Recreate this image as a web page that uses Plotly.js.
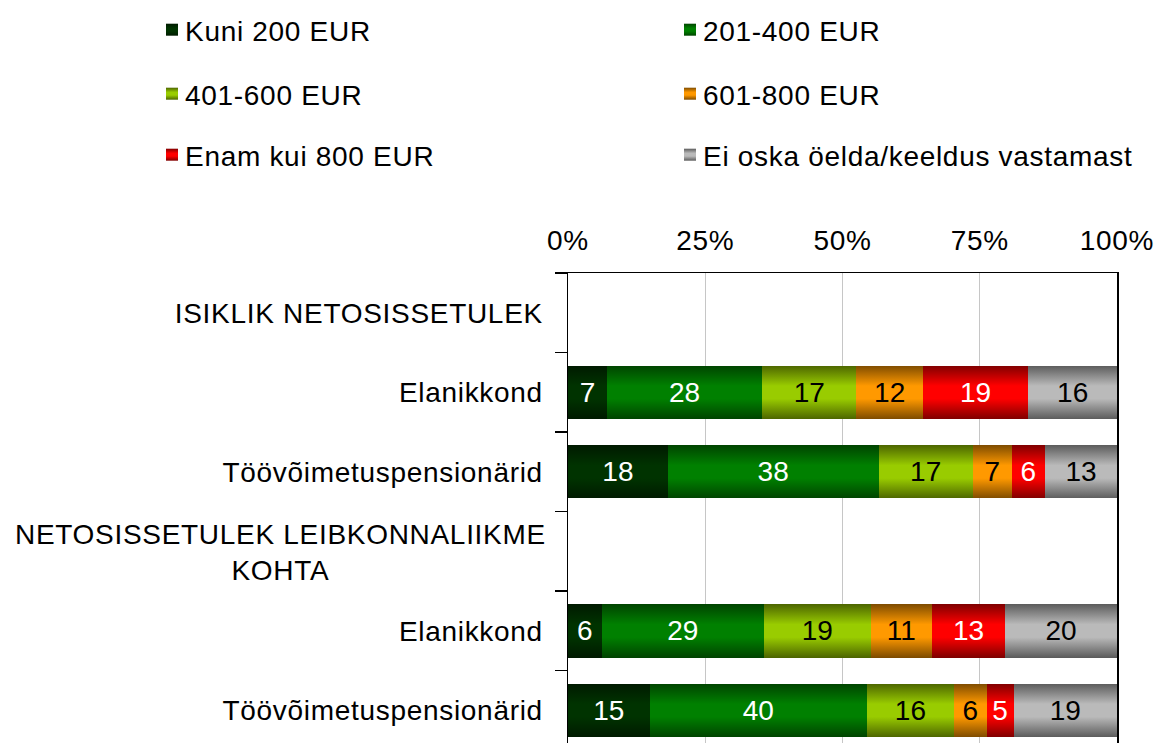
<!DOCTYPE html>
<html>
<head>
<meta charset="utf-8">
<script src="https://cdn.plot.ly/plotly-3.0.1.min.js"></script>
<style>
  html, body { margin: 0; padding: 0; background: #fff; }
  #chart { width: 1157px; height: 743px; }
  text { letter-spacing: 0.7px; }
  text.bartext { letter-spacing: 0px; }
</style>
</head>
<body>
<div id="chart"></div>
<script>
// ---- data ----
const categories = [
  'ISIKLIK NETOSISSETULEK',
  'Elanikkond',
  'Töövõimetuspensionärid',
  'NETOSISSETULEK LEIBKONNALIIKME<br>KOHTA',
  'Elanikkond',
  'Töövõimetuspensionärid'
];
const seriesNames = ['Kuni 200 EUR', '201-400 EUR', '401-600 EUR', '601-800 EUR', 'Enam kui 800 EUR', 'Ei oska öelda/keeldus vastamast'];
const kuni200   = [null, 7, 18, null, 6, 15];
const eur201400 = [null, 28, 38, null, 29, 40];
const eur401600 = [null, 17, 17, null, 19, 16];
const eur601800 = [null, 12, 7, null, 11, 6];
const enam800   = [null, 19, 6, null, 13, 5];
const eiOska    = [null, 16, 13, null, 20, 19];
const xTickVals = [0, 25, 50, 75, 100];
const xTickText = ['0%', '25%', '50%', '75%', '100%'];

// ---- styles ----
const seriesValues = [kuni200, eur201400, eur401600, eur601800, enam800, eiOska];
const midColors  = ['#003300', '#008000', '#99cc00', '#ff9900', '#ff0000', '#bababa'];
const edgeColors = ['#001a00', '#004400', '#4d6600', '#7f4c00', '#800000', '#5c5c5c'];
const textColors = ['#ffffff', '#ffffff', '#000000', '#000000', '#ffffff', '#000000'];
const legendPos = [
  {x: 145, y: 30}, {x: 663, y: 30},
  {x: 145, y: 94}, {x: 663, y: 94},
  {x: 145, y: 155}, {x: 663, y: 155}
];
const W = 1157, H = 743;
const FONT = 'Liberation Sans, Arial, sans-serif';
const FS = 28;

const yPos = categories.map((c, i) => i);
const headerIdx = 3;

const traces = seriesValues.map((vals, k) => ({
  type: 'bar',
  orientation: 'h',
  name: seriesNames[k],
  y: yPos,
  x: vals,
  text: vals.map(v => v === null ? '' : String(v)),
  textposition: 'inside',
  insidetextanchor: 'middle',
  textangle: 0,
  constraintext: 'none',
  insidetextfont: {family: FONT, size: FS, color: textColors[k]},
  marker: {color: midColors[k], line: {width: 0}},
  hoverinfo: 'skip',
  legend: k === 0 ? 'legend' : 'legend' + (k + 1)
}));

const layout = {
  width: W, height: H,
  margin: {l: 568, r: 40, t: 273, b: 0, pad: 0, autoexpand: false},
  paper_bgcolor: '#ffffff',
  plot_bgcolor: '#ffffff',
  barmode: 'stack',
  barnorm: 'percent',
  bargap: 0.33,
  font: {family: FONT, size: FS, color: '#000'},
  xaxis: {
    side: 'top',
    range: [0, 100],
    tickmode: 'array',
    tickvals: xTickVals,
    ticktext: xTickText,
    ticks: '',
    tickangle: 0,
    showline: true, linecolor: '#000', linewidth: 1.5,
    showgrid: true, gridcolor: '#c6c6c6', gridwidth: 1,
    zeroline: false,
    ticklabelstandoff: 10,
    tickfont: {family: FONT, size: FS, color: '#000'},
    fixedrange: true
  },
  yaxis: {
    range: [5.41, -0.5],
    tickmode: 'array',
    tickvals: yPos,
    ticktext: categories.map((c, i) => i === headerIdx ? '' : c),
    ticks: '',
    showline: true, linecolor: '#000', linewidth: 1.5, mirror: true,
    showgrid: false, zeroline: false,
    ticklabelstandoff: 18,
    tickfont: {family: FONT, size: FS, color: '#000'},
    minor: {
      tickmode: 'array',
      tickvals: [-0.5, 0.5, 1.5, 2.5, 3.5, 4.5, 5.5],
      ticks: 'outside', ticklen: 12, tickwidth: 1.5, tickcolor: '#000',
      showgrid: false
    },
    fixedrange: true
  },
  annotations: [{
    xref: 'paper', yref: 'y',
    x: 0, y: headerIdx,
    xanchor: 'right', yanchor: 'middle',
    xshift: -20,
    yshift: -1,
    align: 'center',
    showarrow: false,
    text: categories[headerIdx],
    font: {family: FONT, size: FS, color: '#000'}
  }],
  showlegend: true
};

seriesNames.forEach((n, k) => {
  const key = k === 0 ? 'legend' : 'legend' + (k + 1);
  layout[key] = {
    xref: 'container', yref: 'container',
    x: legendPos[k].x / W, y: 1 - legendPos[k].y / H,
    xanchor: 'left', yanchor: 'middle',
    bgcolor: 'rgba(0,0,0,0)', borderwidth: 0,
    itemwidth: 30,
    font: {family: FONT, size: FS, color: '#000'},
    itemclick: false, itemdoubleclick: false
  };
});

Plotly.newPlot('chart', traces, layout, {displayModeBar: false, staticPlot: true}).then(gd => {
  // vertical gradient fills, like the original bars
  const svg = gd.querySelector('svg.main-svg');
  const NS = 'http://www.w3.org/2000/svg';
  let defs = svg.querySelector('defs');
  if (!defs) { defs = document.createElementNS(NS, 'defs'); svg.insertBefore(defs, svg.firstChild); }
  midColors.forEach((mid, k) => {
    const g = document.createElementNS(NS, 'linearGradient');
    g.setAttribute('id', 'barGrad' + k);
    g.setAttribute('x1', '0'); g.setAttribute('y1', '0');
    g.setAttribute('x2', '0'); g.setAttribute('y2', '1');
    [[0, edgeColors[k]], [0.38, mid], [0.62, mid], [1, edgeColors[k]]].forEach(([o, c]) => {
      const s = document.createElementNS(NS, 'stop');
      s.setAttribute('offset', o); s.setAttribute('stop-color', c);
      g.appendChild(s);
    });
    defs.appendChild(g);
  });
  gd.querySelectorAll('.barlayer .trace').forEach((tr, k) => {
    let idx = k;
    try { idx = tr.__data__[0].trace.index; } catch (e) {}
    tr.querySelectorAll('.point path').forEach(p => { p.style.fill = 'url(#barGrad' + idx + ')'; });
  });
  gd.querySelectorAll('.legendpoints').forEach(lp => {
    let idx = null;
    try { idx = lp.parentNode.__data__[0].trace.index; } catch (e) {}
    if (idx !== null && idx !== undefined) {
      lp.querySelectorAll('path').forEach(p => { p.style.fill = 'url(#barGrad' + idx + ')'; });
    }
    // sit the swatch close to its label, as in the original
    lp.setAttribute('transform', 'translate(7,0)');
  });
});
</script>
</body>
</html>
